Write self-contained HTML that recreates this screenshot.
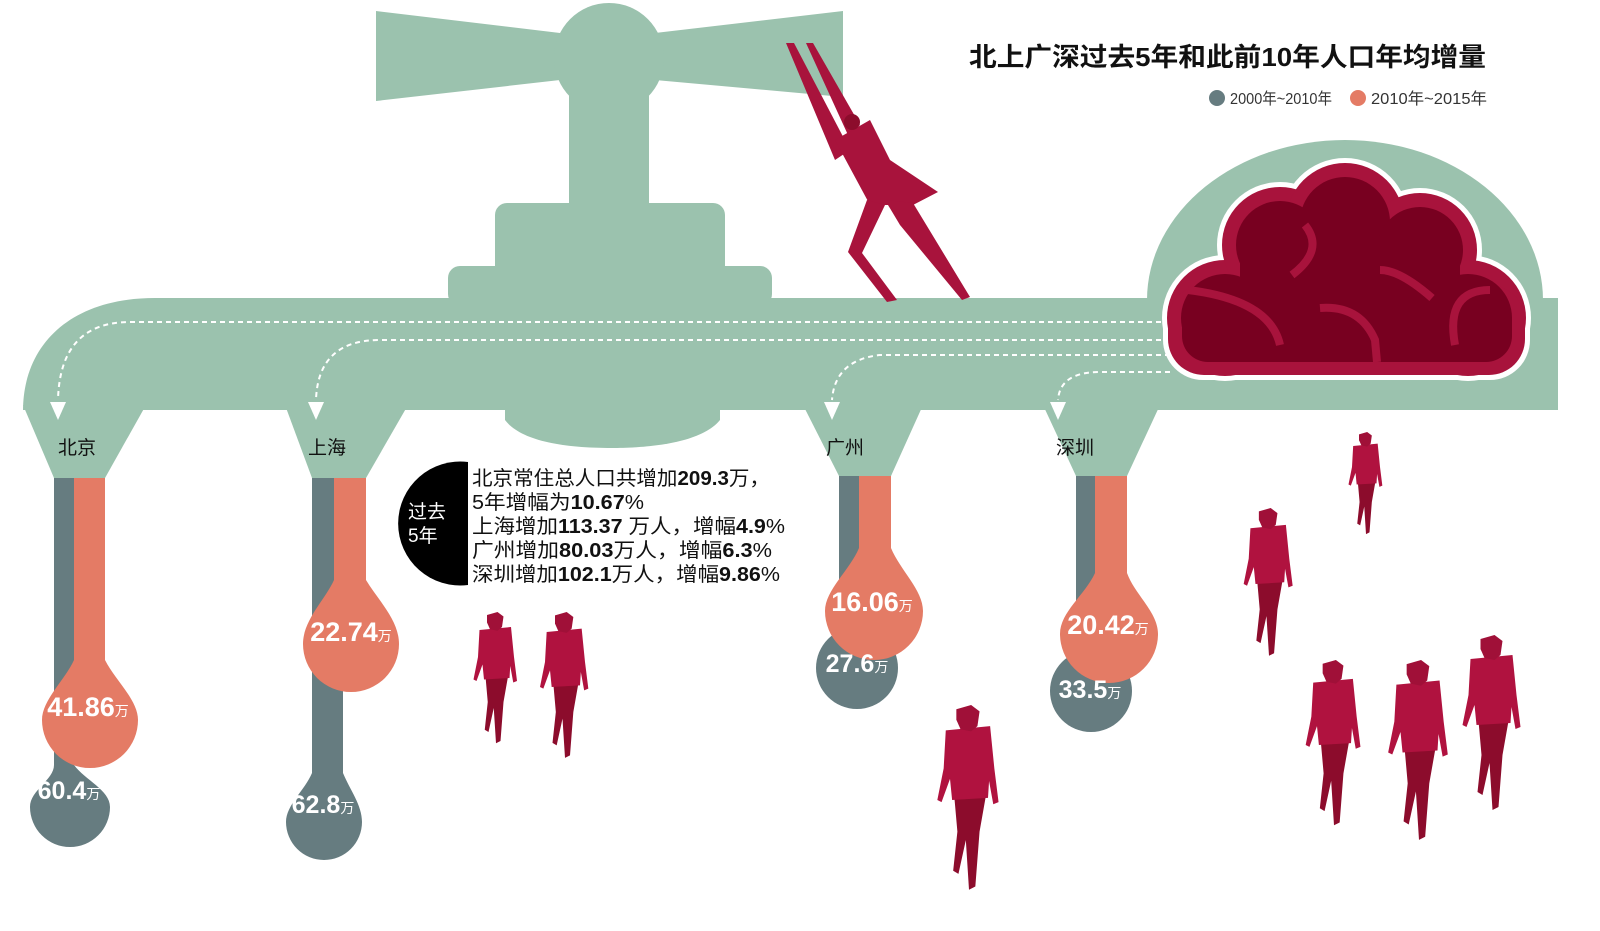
<!DOCTYPE html>
<html><head><meta charset="utf-8"><style>
html,body{margin:0;padding:0;background:#fff;}
svg{display:block;font-family:"Liberation Sans","Noto Sans CJK SC",sans-serif;}
</style></head><body>
<svg width="1600" height="931" viewBox="0 0 1600 931" xmlns="http://www.w3.org/2000/svg">
<defs>
<symbol id="p" viewBox="0 0 60 180">
<path d="M16 86 L46 86 L40 120 L36 172 L30 175 L27 128 L20 160 L15 157 L19 120 Z" fill="#8c0c2c"/>
<path d="M8 24 L50 20 L54 60 L58 92 L53 94 L49 72 L48 88 L14 90 L12 70 L4 92 L0 90 L6 60 Z" fill="#b0123f"/>
<path d="M18 4 L32 0 L40 6 L38 20 L32 25 L22 23 L18 14 Z" fill="#a01038"/>
</symbol>
</defs>
<g fill="#9bc2ae">
<polygon points="376,11 560,33 560,80 376,101"/>
<polygon points="843,11 655,33 655,80 843,97"/>
<circle cx="609" cy="58" r="55"/>
<rect x="569" y="95" width="80" height="115"/>
<rect x="495" y="203" width="230" height="75" rx="12"/>
<rect x="448" y="266" width="324" height="40" rx="12"/>
<path d="M1147 300 A198 160 0 0 1 1543 300 Z"/>
<path d="M23 411 C23 345 70 298 155 298 H1558 V410 H23 Z"/>
<path d="M23 405 L146 405 L105 478 L54 478 Z"/>
<path d="M285 405 L408 405 L366 478 L312 478 Z"/>
<path d="M803 405 L923 405 L891 476 L839 476 Z"/>
<path d="M1043 405 L1160 405 L1127 476 L1076 476 Z"/>
<path d="M505 405 H720 V420 C700 445 640 448 612 448 C560 448 520 440 505 420 Z"/>
</g>
<g fill="none" stroke="#fff" stroke-width="2" stroke-dasharray="5,4">
<path d="M1170 322 H130 Q60 322 58 400"/>
<path d="M1170 340 H380 Q318 340 316 400"/>
<path d="M1170 355 H880 Q835 360 832 400"/>
<path d="M1170 372 H1100 Q1060 372 1058 400"/>
</g>
<g fill="#fff">
<polygon points="50,402 66,402 58,420"/>
<polygon points="308,402 324,402 316,420"/>
<polygon points="824,402 840,402 832,420"/>
<polygon points="1050,402 1066,402 1058,420"/>
</g>
<g fill="#fff">
<circle cx="1225" cy="318" r="63"/><circle cx="1280" cy="245" r="63"/><circle cx="1345" cy="222" r="64"/><circle cx="1420" cy="250" r="62"/><circle cx="1468" cy="318" r="63"/><rect x="1163" y="280" width="367" height="100" rx="40"/>
</g>
<g fill="#a8133c">
<circle cx="1225" cy="318" r="58"/><circle cx="1280" cy="245" r="58"/><circle cx="1345" cy="222" r="59"/><circle cx="1420" cy="250" r="57"/><circle cx="1468" cy="318" r="58"/><rect x="1168" y="285" width="357" height="90" rx="36"/>
</g>
<g fill="#780020">
<circle cx="1225" cy="318" r="44"/><circle cx="1280" cy="245" r="44"/><circle cx="1345" cy="222" r="45"/><circle cx="1420" cy="250" r="43"/><circle cx="1468" cy="318" r="44"/><rect x="1182" y="295" width="330" height="67" rx="26"/>
<rect x="1240" y="240" width="220" height="100"/>
</g>
<g fill="none" stroke="#a8133c" stroke-width="8">
<path d="M1320 308 Q1360 305 1375 340 L1377 362"/>
<path d="M1380 270 Q1400 270 1432 298"/>
<path d="M1292 275 Q1325 250 1305 225"/>
<path d="M1188 290 Q1270 300 1280 345"/>
<path d="M1455 345 Q1445 290 1490 290"/>
</g>
<g fill="#a8133c">
<polygon points="786,43 794,43 850,150 835,160"/>
<polygon points="806,43 813,43 860,125 848,135"/>
<polygon points="835,140 870,120 890,160 938,192 913,205 870,205"/>
<polygon points="867,200 885,205 862,253 897,300 887,302 848,252"/>
<polygon points="885,200 913,203 970,297 962,300 900,225"/>
</g>
<circle cx="852" cy="122" r="8" fill="#8c0c2c"/>
<g fill="#667c80">
<rect x="54" y="478" width="20" height="300"/>
<path d="M54 765 C54 780 30 790 30 807 A40 40 0 0 0 110 807 C110 790 85 780 74 765 Z"/>
<rect x="312" y="478" width="31" height="300"/>
<path d="M312 773 C305 790 286 805 286 822 A38 38 0 0 0 362 822 C362 805 350 790 343 773 Z"/>
<rect x="839" y="476" width="20" height="160"/>
<circle cx="857" cy="668" r="41"/>
<rect x="1076" y="476" width="19" height="190"/>
<circle cx="1091" cy="691" r="41"/>
</g>
<g fill="#e47b65">
<rect x="74" y="478" width="31" height="190"/>
<path d="M74 660 C65 680 42 700 42 720 A48 48 0 0 0 138 720 C138 700 115 680 105 660 Z"/>
<rect x="334" y="478" width="32" height="110"/>
<path d="M334 580 C325 600 303 620 303 644 A48 48 0 0 0 399 644 C399 620 378 600 366 580 Z"/>
<rect x="859" y="476" width="32" height="80"/>
<path d="M859 548 C850 570 825 590 825 611 A49 49 0 0 0 923 611 C923 590 900 570 891 548 Z"/>
<rect x="1095" y="476" width="32" height="105"/>
<path d="M1095 573 C1085 595 1060 612 1060 634 A49 49 0 0 0 1158 634 C1158 612 1135 595 1127 573 Z"/>
</g>
<g fill="#fff" font-weight="bold" font-size="27" text-anchor="middle">
<text x="88" y="716">41.86<tspan font-size="14" font-weight="normal">万</tspan></text>
<text x="69" y="799" font-size="25">60.4<tspan font-size="14" font-weight="normal">万</tspan></text>
<text x="351" y="641">22.74<tspan font-size="14" font-weight="normal">万</tspan></text>
<text x="323" y="813" font-size="25">62.8<tspan font-size="14" font-weight="normal">万</tspan></text>
<text x="872" y="611">16.06<tspan font-size="14" font-weight="normal">万</tspan></text>
<text x="857" y="672" font-size="25">27.6<tspan font-size="14" font-weight="normal">万</tspan></text>
<text x="1108" y="634">20.42<tspan font-size="14" font-weight="normal">万</tspan></text>
<text x="1090" y="698" font-size="25">33.5<tspan font-size="14" font-weight="normal">万</tspan></text>
</g>
<g fill="#111" font-size="19">
<text x="58" y="454">北京</text>
<text x="308" y="454">上海</text>
<text x="826" y="454">广州</text>
<text x="1056" y="454">深圳</text>
</g>
<path d="M468 462 A62 62 0 1 0 468 585 Z" fill="#000"/>
<text x="408" y="518" fill="#fff" font-size="19">过去</text>
<text x="408" y="542" fill="#fff" font-size="19">5年</text>
<g fill="#111" font-size="20">
<text x="472" y="485" textLength="298" lengthAdjust="spacingAndGlyphs">北京常住总人口共增加<tspan font-weight="bold">209.3</tspan>万，</text>
<text x="472" y="509" textLength="172" lengthAdjust="spacingAndGlyphs">5年增幅为<tspan font-weight="bold">10.67</tspan>%</text>
<text x="472" y="533" textLength="313" lengthAdjust="spacingAndGlyphs">上海增加<tspan font-weight="bold">113.37</tspan> 万人，增幅<tspan font-weight="bold">4.9</tspan>%</text>
<text x="472" y="557" textLength="300" lengthAdjust="spacingAndGlyphs">广州增加<tspan font-weight="bold">80.03</tspan>万人，增幅<tspan font-weight="bold">6.3</tspan>%</text>
<text x="472" y="581" textLength="308" lengthAdjust="spacingAndGlyphs">深圳增加<tspan font-weight="bold">102.1</tspan>万人，增幅<tspan font-weight="bold">9.86</tspan>%</text>
</g>
<text x="969" y="66" font-size="26" font-weight="bold" fill="#111" textLength="517" lengthAdjust="spacingAndGlyphs">北上广深过去5年和此前10年人口年均增量</text>
<circle cx="1217" cy="98" r="8" fill="#667c80"/>
<text x="1230" y="104" font-size="16" fill="#333" textLength="102" lengthAdjust="spacingAndGlyphs">2000年~2010年</text>
<circle cx="1358" cy="98" r="8" fill="#e47b65"/>
<text x="1371" y="104" font-size="16" fill="#333" textLength="116" lengthAdjust="spacingAndGlyphs">2010年~2015年</text>
<use href="#p" x="1345" y="432" width="42" height="105"/>
<use href="#p" x="1238" y="508" width="62" height="152"/>
<use href="#p" x="1300" y="660" width="68" height="170"/>
<use href="#p" x="1385" y="660" width="68" height="185"/>
<use href="#p" x="1455" y="635" width="75" height="180"/>
<use href="#p" x="930" y="705" width="78" height="190"/>
<use href="#p" x="470" y="612" width="52" height="135"/>
<use href="#p" x="535" y="612" width="60" height="150"/>
</svg>
</body></html>
